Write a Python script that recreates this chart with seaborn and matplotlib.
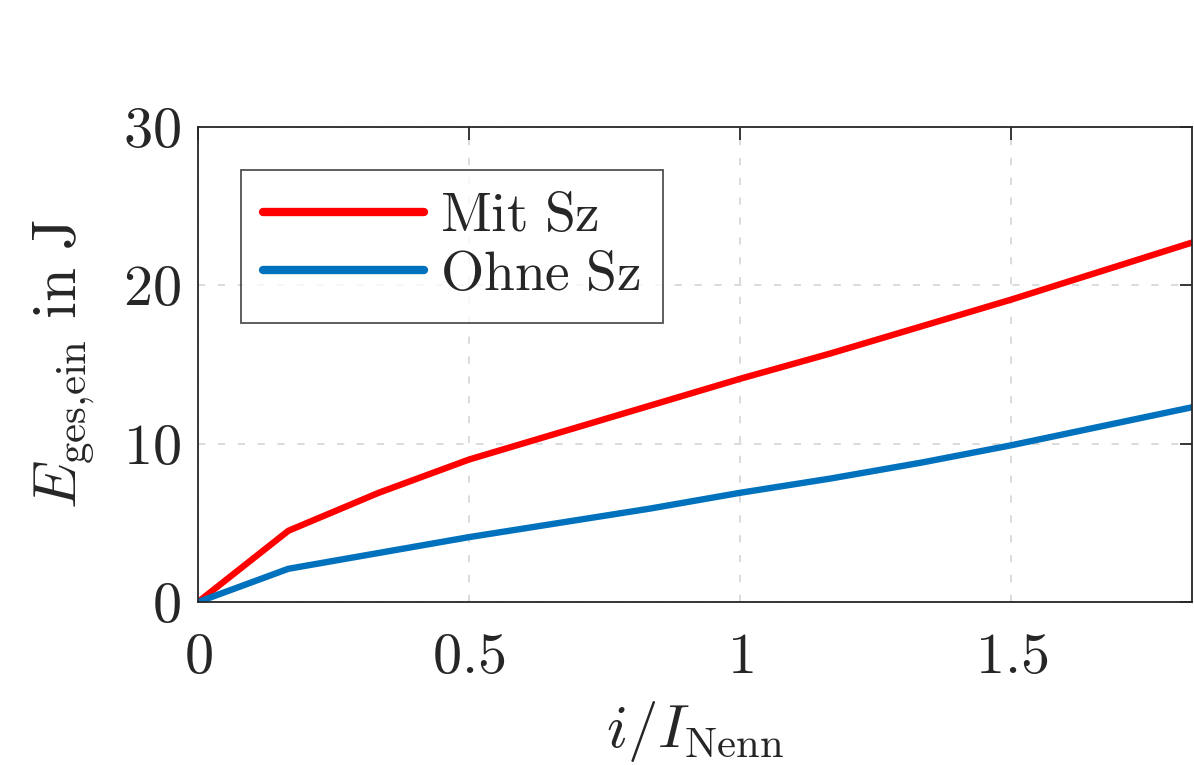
import numpy as np
import pandas as pd
import seaborn as sns
import matplotlib.pyplot as plt

# Strom bezogen auf Nennstrom (Schritte von 1/6)
i_rel = [0, 1/6, 2/6, 3/6, 4/6, 5/6, 1.0, 7/6, 8/6, 9/6, 10/6, 11/6]
# Einschaltenergie in J
e_mit_sz = [0, 4.5, 6.9, 9.0, 10.7, 12.4, 14.1, 15.7, 17.4, 19.1, 20.9, 22.7]
e_ohne_sz = [0, 2.1, 3.1, 4.1, 5.0, 5.9, 6.9, 7.8, 8.8, 9.9, 11.1, 12.3]
serien = ['Mit Sz', 'Ohne Sz']
farben = ['#FF0000', '#0072BD']

df = pd.DataFrame({
    'i': i_rel * 2,
    'E': e_mit_sz + e_ohne_sz,
    'Serie': [serien[0]] * len(i_rel) + [serien[1]] * len(i_rel),
})

sns.set_style('white')
plt.rcParams['mathtext.fontset'] = 'cm'
plt.rcParams['font.family'] = ['cmr10', 'DejaVu Serif']
plt.rcParams['axes.formatter.use_mathtext'] = True

fig = plt.figure(figsize=(11.94, 7.65), dpi=100)
ax = fig.add_axes([0.1658, 0.213, 0.8325, 0.621])

sns.lineplot(data=df, x='i', y='E', hue='Serie', palette=farben,
             linewidth=4.6, ax=ax)

ax.set_xlim(0, 11/6)
ax.set_ylim(0, 30)
ax.set_xticks([0, 0.5, 1, 1.5])
ax.set_xticklabels(['$0$', '$0.5$', '$1$', '$1.5$'])
ax.set_yticks([0, 10, 20, 30])
ax.set_yticklabels(['$0$', '$10$', '$20$', '$30$'])
ax.tick_params(direction='in', length=9, width=1.3, labelsize=42,
               top=True, right=True, colors='#262626')
ax.tick_params(axis='x', pad=22)
ax.tick_params(axis='y', pad=12)
ax.grid(True, linestyle=(0, (4, 7)), color='#d8d8d8', linewidth=1.3)
for s in ax.spines.values():
    s.set_color('#262626')
    s.set_linewidth(1.3)

ax.set_xlabel(r'$i/I_{\mathrm{Nenn}}$', fontsize=44, labelpad=11)
ax.set_ylabel(r'$E_{\mathrm{ges{,}ein}}\ \mathrm{in\ J}$', fontsize=44, labelpad=20)

leg = ax.legend(handles=ax.get_lines()[:2], labels=[r'$\mathrm{Mit\ Sz}$', r'$\mathrm{Ohne\ Sz}$'],
                loc='upper left', bbox_to_anchor=(0.043, 0.909), fontsize=40,
                frameon=True, fancybox=False, edgecolor='#262626',
                handlelength=2.9, handletextpad=0.28, borderpad=0.4, labelspacing=0.15,
                borderaxespad=0)
leg.get_frame().set_linewidth(1.3)
for l in leg.get_lines():
    l.set_linewidth(6)

fig.savefig('out.png', dpi=100)
